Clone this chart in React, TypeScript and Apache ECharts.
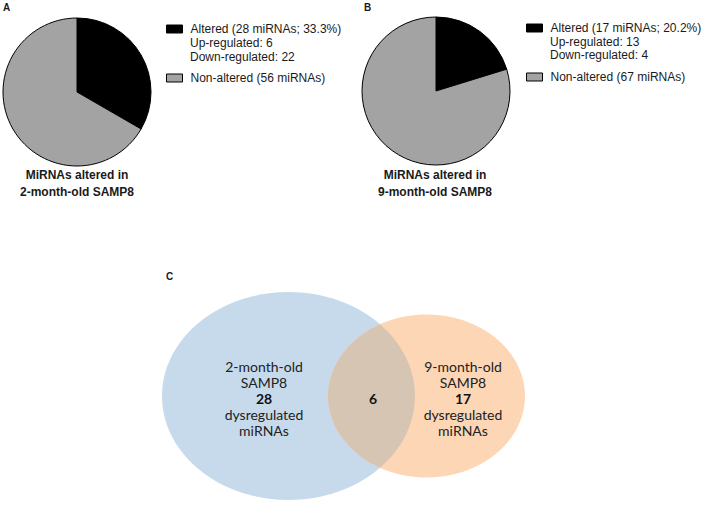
import React, { useEffect, useRef } from "react";
import * as echarts from "echarts";

// ---- data ----
const pieCategories = ["Altered", "Non-altered"];
const pieAValues = [28, 56];
const pieBValues = [17, 67];
const upDownA = [6, 22];
const upDownB = [13, 4];
const pieTitlesA = ["MiRNAs altered in", "2-month-old SAMP8"];
const pieTitlesB = ["MiRNAs altered in", "9-month-old SAMP8"];
const panelLetters = ["A", "B", "C"];
const vennCounts = [28, 6, 17];
const vennGroups = ["2-month-old", "9-month-old"];
const pieColors = ["#000000", "#a3a3a4"];

// ---- Venn geometry ----
const E1 = { cx: 288.5, cy: 396, rx: 126.5, ry: 104 };
const E2 = { cx: 426.5, cy: 396, rx: 98.5, ry: 81.5 };

function lensPath(): string {
  const f = (x: number) =>
    E1.ry * E1.ry * (1 - ((x - E1.cx) / E1.rx) ** 2) -
    E2.ry * E2.ry * (1 - ((x - E2.cx) / E2.rx) ** 2);
  let lo = E2.cx - E2.rx;
  let hi = E1.cx + E1.rx;
  for (let i = 0; i < 60; i++) {
    const mid = (lo + hi) / 2;
    if (f(mid) > 0) lo = mid;
    else hi = mid;
  }
  const x = (lo + hi) / 2;
  const dy = E2.ry * Math.sqrt(Math.max(0, 1 - ((x - E2.cx) / E2.rx) ** 2));
  const y1 = E1.cy - dy;
  const y2 = E1.cy + dy;
  return `M ${x} ${y1} A ${E2.rx} ${E2.ry} 0 0 0 ${x} ${y2} A ${E1.rx} ${E1.ry} 0 0 0 ${x} ${y1} Z`;
}

let registered = false;
function ensureShape() {
  if (registered) return;
  echarts.graphic.registerShape("vennLens", echarts.graphic.extendPath(lensPath(), {}) as any);
  registered = true;
}

const SANS = "'Liberation Sans', Arial, sans-serif";
const VENN_FONT = "Lato, 'Open Sans', sans-serif";
const TXT = "#1a1a1a";

function pct(vals: number[]) {
  const t = vals.reduce((a, b) => a + b, 0);
  return ((vals[0] / t) * 100).toFixed(1);
}

export default function App() {
  const ref = useRef<HTMLDivElement>(null);
  useEffect(() => {
    if (!ref.current) return;
    ensureShape();
    const chart = echarts.init(ref.current, null, { renderer: "svg" });

    const namesA = [
      `${pieCategories[0]} (${pieAValues[0]} miRNAs; ${pct(pieAValues)}%)`,
      `${pieCategories[1]} (${pieAValues[1]} miRNAs)`,
    ];
    const namesB = [
      `${pieCategories[0]} (${pieBValues[0]} miRNAs; ${pct(pieBValues)}%)`,
      `${pieCategories[1]} (${pieBValues[1]} miRNAs)`,
    ];

    const mkPie = (center: number[], vals: number[], names: string[]) => ({
      type: "pie",
      center,
      radius: 74,
      startAngle: 90,
      clockwise: true,
      silent: true,
      label: { show: false },
      labelLine: { show: false },
      emphasis: { disabled: true },
      itemStyle: { borderColor: "#000", borderWidth: 1 },
      data: vals.map((v, i) => ({ value: v, name: names[i], itemStyle: { color: pieColors[i] } })),
    });

    const mkLegend = (left: number, top: number, names: string[]) => ({
      orient: "vertical",
      left,
      top,
      padding: 0,
      itemWidth: 16,
      itemHeight: 8,
      itemGap: 35,
      icon: "rect",
      selectedMode: false,
      data: names,
      itemStyle: { borderColor: "#000", borderWidth: 1 },
      textStyle: { fontSize: 12, fontFamily: SANS, color: TXT, lineHeight: 14, padding: [0, 0, 0, 3] },
    });

    const text = (x: number, y: number, t: string, o: any = {}) => ({
      type: "text",
      x,
      y,
      silent: true,
      style: {
        text: t,
        fontSize: 12,
        fontFamily: SANS,
        fill: TXT,
        align: "left",
        verticalAlign: "middle",
        ...o,
      },
    });

    const vennStyle = {
      align: "center",
      fontFamily: VENN_FONT,
      fontSize: 14,
      lineHeight: 16,
      fill: "#222",
      rich: {
        b: { fontFamily: VENN_FONT, fontSize: 14, lineHeight: 16, fontWeight: "bold", fill: "#111" },
      },
    };
    const vennBlock = (x: number, group: string, count: number) =>
      text(x, 398, `${group}\nSAMP8\n{b|${count}}\ndysregulated\nmiRNAs`, vennStyle);

    const graphics: any[] = [
      text(3, 7, panelLetters[0], { fontWeight: "bold", fontSize: 10 }),
      text(364, 7, panelLetters[1], { fontWeight: "bold", fontSize: 10 }),
      text(166, 276, panelLetters[2], { fontWeight: "bold", fontSize: 10 }),
      text(190, 43, `Up-regulated: ${upDownA[0]}`),
      text(190, 57, `Down-regulated: ${upDownA[1]}`),
      text(550, 42, `Up-regulated: ${upDownB[0]}`),
      text(550, 55, `Down-regulated: ${upDownB[1]}`),
      text(77, 175, pieTitlesA[0], { fontWeight: "bold", align: "center" }),
      text(77, 192, pieTitlesA[1], { fontWeight: "bold", align: "center" }),
      text(435, 175, pieTitlesB[0], { fontWeight: "bold", align: "center" }),
      text(435, 192, pieTitlesB[1], { fontWeight: "bold", align: "center" }),
      { type: "ellipse", silent: true, shape: { cx: E1.cx, cy: E1.cy, rx: E1.rx, ry: E1.ry }, style: { fill: "#c6daeb" } },
      { type: "ellipse", silent: true, shape: { cx: E2.cx, cy: E2.cy, rx: E2.rx, ry: E2.ry }, style: { fill: "#fcd6b5" } },
      { type: "vennLens", silent: true, x: 0, y: 0, scaleX: 1, scaleY: 1, style: { fill: "#d6c5b3" } },
      vennBlock(264, vennGroups[0], vennCounts[0]),
      text(373, 398, String(vennCounts[1]), {
        align: "center",
        fontFamily: VENN_FONT,
        fontSize: 14,
        fontWeight: "bold",
        fill: "#111",
      }),
      vennBlock(463, vennGroups[1], vennCounts[2]),
    ];

    chart.setOption({
      animation: false,
      backgroundColor: "#ffffff",
      legend: [mkLegend(166, 22, namesA), mkLegend(526, 21, namesB)],
      series: [mkPie([77, 92], pieAValues, namesA), mkPie([436, 91], pieBValues, namesB)],
      graphic: graphics,
    });
    return () => chart.dispose();
  }, []);
  return <div ref={ref} style={{ position: "absolute", left: 0, top: 0, width: 708, height: 508 }} />;
}
